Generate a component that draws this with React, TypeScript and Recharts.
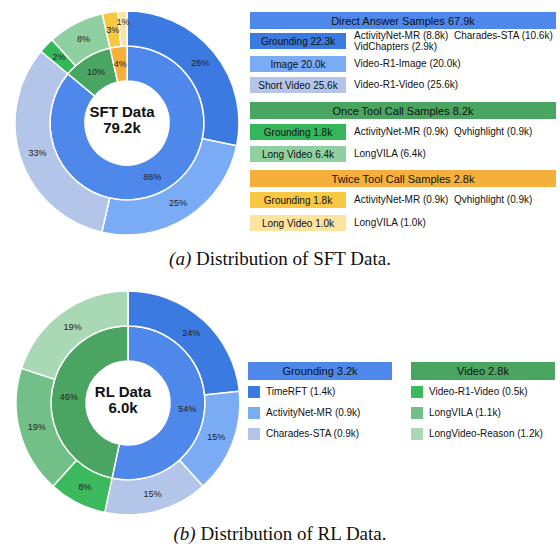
import React from 'react'
import { PieChart, Pie, Cell } from 'recharts'

// SFT data (k samples)
const sftInnerNames = ['Direct Answer', 'Once Tool Call', 'Twice Tool Call']
const sftInnerValues = [67.9, 8.2, 2.8]
const sftInnerPct = ['86%', '10%', '4%']
const sftOuterNames = ['Grounding', 'Image', 'Short Video', 'Grounding', 'Long Video', 'Grounding', 'Long Video']
const sftOuterValues = [22.3, 20.0, 25.6, 1.8, 6.4, 1.8, 1.0]
const sftOuterPct = ['28%', '25%', '33%', '2%', '8%', '3%', '1%']

// RL data (k samples)
const rlInnerNames = ['Grounding', 'Video']
const rlInnerValues = [3.2, 2.8]
const rlInnerPct = ['54%', '46%']
const rlOuterNames = ['TimeRFT', 'ActivityNet-MR', 'Charades-STA', 'Video-R1-Video', 'LongVILA', 'LongVideo-Reason']
const rlOuterValues = [1.4, 0.9, 0.9, 0.5, 1.1, 1.2]
const rlOuterPct = ['24%', '15%', '15%', '8%', '19%', '19%']

// SFT legend text
const sftGroupTitles = ['Direct Answer Samples 67.9k', 'Once Tool Call Samples 8.2k', 'Twice Tool Call Samples 2.8k']
const sftRowLabels = ['Grounding 22.3k', 'Image 20.0k', 'Short Video 25.6k', 'Grounding 1.8k', 'Long Video 6.4k', 'Grounding 1.8k', 'Long Video 1.0k']
const sftRowSources = [
  ['ActivityNet-MR (8.8k)\u00a0\u00a0Charades-STA (10.6k)', 'VidChapters (2.9k)'],
  ['Video-R1-Image (20.0k)'],
  ['Video-R1-Video (25.6k)'],
  ['ActivityNet-MR (0.9k)\u00a0\u00a0Qvhighlight (0.9k)'],
  ['LongVILA (6.4k)'],
  ['ActivityNet-MR (0.9k)\u00a0\u00a0Qvhighlight (0.9k)'],
  ['LongVILA (1.0k)'],
]
const rlGroupTitles = ['Grounding 3.2k', 'Video 2.8k']
const rlItemLabels = ['TimeRFT (1.4k)', 'ActivityNet-MR (0.9k)', 'Charades-STA (0.9k)', 'Video-R1-Video (0.5k)', 'LongVILA (1.1k)', 'LongVideo-Reason (1.2k)']

const sftInnerColors = ['#4d88ea', '#4aa562', '#f4b03a']
const sftOuterColors = ['#3b7ae0', '#7aabf5', '#b3c6ea', '#34b75a', '#8fd0a0', '#f8c843', '#fce3a0']
const rlInnerColors = ['#4d88ea', '#4aa562']
const rlOuterColors = ['#3b7ae0', '#7aabf5', '#b3c6ea', '#3cb95c', '#72c088', '#a8d9b4']

const FONT = '"Comic Sans MS", "Liberation Sans", Arial, sans-serif'

const toRows = (names: string[], values: number[]) => names.map((name, i) => ({ name, value: values[i] }))

const pctLabel = (labels: string[]) => (props: any) => {
  const { cx, cy, midAngle, innerRadius, outerRadius, index, startAngle, endAngle } = props
  // tiny slices get nudged outward so neighbouring labels don't collide
  const span = Math.abs((endAngle ?? 0) - (startAngle ?? 0))
  const r = (innerRadius + outerRadius) / 2 + (span > 0 && span < 6 ? 7 : 0)
  const rad = Math.PI / 180
  const x = cx + r * Math.cos(-midAngle * rad)
  const y = cy + r * Math.sin(-midAngle * rad)
  return (
    <text x={x} y={y} textAnchor="middle" dominantBaseline="central" fontSize={9} fill="#222" fontFamily={FONT}>
      {labels[index]}
    </text>
  )
}

function Donut({ inner, outer, innerColors, outerColors, innerPct, outerPct, title, total }: any) {
  return (
    <div style={{ position: 'relative', width: 240, height: 240 }}>
      <PieChart width={240} height={240}>
        <Pie data={inner} dataKey="value" cx={120} cy={120} innerRadius={42} outerRadius={77}
          startAngle={90} endAngle={-270} stroke="#fff" strokeWidth={1.5}
          label={pctLabel(innerPct)} labelLine={false} isAnimationActive={false}>
          {inner.map((_: any, i: number) => <Cell key={i} fill={innerColors[i]} />)}
        </Pie>
        <Pie data={outer} dataKey="value" cx={120} cy={120} innerRadius={77} outerRadius={112}
          startAngle={90} endAngle={-270} stroke="#fff" strokeWidth={1.5}
          label={pctLabel(outerPct)} labelLine={false} isAnimationActive={false}>
          {outer.map((_: any, i: number) => <Cell key={i} fill={outerColors[i]} />)}
        </Pie>
      </PieChart>
      <div style={{
        position: 'absolute', left: 70, top: 106, width: 100, textAlign: 'center',
        fontFamily: FONT, fontWeight: 'bold', fontSize: 15, lineHeight: '16px', color: '#111',
      }}>
        <div>{title}</div>
        <div>{total}</div>
      </div>
    </div>
  )
}

const bar = (left: number, top: number, width: number, height: number, bg: string, text: string, size = 10) => (
  <div style={{
    position: 'absolute', left, top, width, height, background: bg, fontFamily: FONT, fontSize: size,
    color: '#111', display: 'flex', alignItems: 'center', justifyContent: 'center', whiteSpace: 'nowrap',
  }}>{text}</div>
)

export default function App() {
  const headerTops = [12, 102, 170]
  const rowTops = [33, 56, 77, 124, 146, 192, 215]
  const rlRowTops = [386, 407, 428]

  return (
    <div style={{ position: 'absolute', left: 0, top: 0, width: 560, height: 548, background: '#fff', overflow: 'hidden' }}>
      <div style={{ position: 'absolute', left: 2, top: -2 }}>
        <Donut inner={toRows(sftInnerNames, sftInnerValues)} outer={toRows(sftOuterNames, sftOuterValues)}
          innerColors={sftInnerColors} outerColors={sftOuterColors} innerPct={sftInnerPct} outerPct={sftOuterPct}
          title="SFT Data" total="79.2k" />
      </div>
      {sftGroupTitles.map((t, i) => (
        <React.Fragment key={t}>{bar(250, headerTops[i], 306, 17, sftInnerColors[i], t, 11)}</React.Fragment>
      ))}
      {sftRowLabels.map((t, i) => {
        const lines = sftRowSources[i]
        const multi = lines.length > 1
        return (
          <React.Fragment key={i}>
            {bar(250, rowTops[i], 96, 16, sftOuterColors[i], t)}
            <div style={{
              position: 'absolute', left: 354, top: multi ? rowTops[i] - 3 : rowTops[i],
              fontFamily: FONT, fontSize: 10, lineHeight: multi ? '11px' : '16px', color: '#111', whiteSpace: 'nowrap',
            }}>
              {lines.map((s, j) => <div key={j}>{s}</div>)}
            </div>
          </React.Fragment>
        )
      })}
      <div style={{ position: 'absolute', left: 0, top: 248, width: 560, textAlign: 'center', fontFamily: '"Liberation Serif", "Times New Roman", serif', fontSize: 19, color: '#111' }}>
        <i>(a)</i> Distribution of SFT Data.
      </div>

      <div style={{ position: 'absolute', left: 3, top: 278 }}>
        <Donut inner={toRows(rlInnerNames, rlInnerValues)} outer={toRows(rlOuterNames, rlOuterValues)}
          innerColors={rlInnerColors} outerColors={rlOuterColors} innerPct={rlInnerPct} outerPct={rlOuterPct}
          title="RL Data" total="6.0k" />
      </div>
      {rlGroupTitles.map((t, i) => (
        <React.Fragment key={t}>{bar(248 + i * 163, 362, 144, 18, rlInnerColors[i], t, 11)}</React.Fragment>
      ))}
      {rlItemLabels.map((t, i) => {
        const col = Math.floor(i / 3)
        const row = i % 3
        const left = 248 + col * 163
        return (
          <React.Fragment key={t}>
            <div style={{ position: 'absolute', left, top: rlRowTops[row], width: 12, height: 12, background: rlOuterColors[i] }} />
            <div style={{ position: 'absolute', left: left + 18, top: rlRowTops[row] - 1, fontFamily: FONT, fontSize: 10, lineHeight: '14px', color: '#111', whiteSpace: 'nowrap' }}>{t}</div>
          </React.Fragment>
        )
      })}
      <div style={{ position: 'absolute', left: 0, top: 523, width: 560, textAlign: 'center', fontFamily: '"Liberation Serif", "Times New Roman", serif', fontSize: 19, color: '#111' }}>
        <i>(b)</i> Distribution of RL Data.
      </div>
    </div>
  )
}
